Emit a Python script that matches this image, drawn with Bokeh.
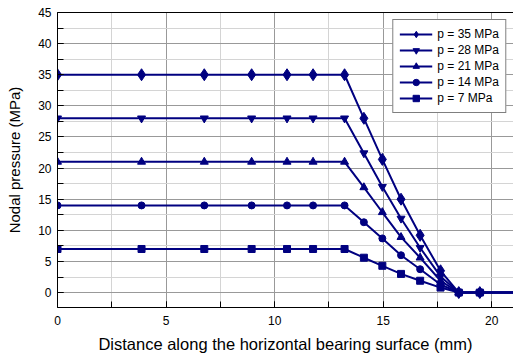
from bokeh.plotting import figure
from bokeh.models import Range1d, LinearAxis, SingleIntervalTicker, FixedTicker
from bokeh.embed import file_html
from bokeh.resources import INLINE

# Data
x_vals = [0, 3.87, 6.76, 8.94, 10.57, 11.77, 13.22, 14.11, 14.96, 15.82, 16.70, 17.64, 18.48, 19.45, 22.0]
p35 = [35, 35, 35, 35, 35, 35, 35, 28.0, 21.4, 15.0, 9.2, 3.5, 0, 0, 0]
p28 = [28, 28, 28, 28, 28, 28, 28, 22.4, 17.0, 11.9, 7.2, 2.6, 0, 0, 0]
p21 = [21, 21, 21, 21, 21, 21, 21, 16.9, 12.9, 8.9, 5.6, 1.9, 0, 0, 0]
p14 = [14, 14, 14, 14, 14, 14, 14, 11.3, 8.7, 6.0, 3.75, 1.3, 0, 0, 0]
p7 = [7, 7, 7, 7, 7, 7, 7, 5.6, 4.3, 3.0, 1.9, 0.8, 0, 0, 0]
labels = ["p = 35 MPa", "p = 28 MPa", "p = 21 MPa", "p = 14 MPa", "p = 7 MPa"]
markers = ["diamond", "inverted_triangle", "triangle", "circle", "square"]
sizes = [12, 8, 8, 7, 7]
series = [p35, p28, p21, p14, p7]

FONT = "Liberation Sans"
COLOR = "#000080"

p = figure(width=513, height=359, output_backend="svg", toolbar_location=None,
           x_range=Range1d(0, 21), y_range=Range1d(-2.4, 45),
           min_border_left=57, min_border_right=0, min_border_top=12, min_border_bottom=52,
           background_fill_color="white", border_fill_color="white")
p.outline_line_color = None

xt = SingleIntervalTicker(interval=5, num_minor_ticks=2)
yt = SingleIntervalTicker(interval=5, num_minor_ticks=2)
p.xaxis.ticker = xt
p.yaxis.ticker = yt
p.xgrid.ticker = xt
p.ygrid.ticker = yt

for g in (p.xgrid, p.ygrid):
    g.grid_line_color = "#999999"
    g.grid_line_width = 1
    g.minor_grid_line_color = "#d4d4d4"
    g.minor_grid_line_width = 1

for ax in (p.xaxis, p.yaxis):
    ax.axis_line_color = "black"
    ax.axis_line_width = 1
    ax.major_tick_in = 6
    ax.major_tick_out = 0
    ax.minor_tick_in = 6
    ax.minor_tick_out = 0
    ax.major_tick_line_color = "black"
    ax.minor_tick_line_color = "black"
    ax.major_label_text_font = FONT
    ax.major_label_text_font_size = "12px"
    ax.major_label_text_color = "black"
    ax.axis_label_text_font = FONT
    ax.axis_label_text_font_style = "normal"
    ax.axis_label_text_color = "black"

p.xaxis.axis_label = "Distance along the horizontal bearing surface (mm)"
p.yaxis.axis_label = "Nodal pressure (MPa)"
p.xaxis.axis_label_text_font_size = "16.5px"
p.yaxis.axis_label_text_font_size = "15px"
p.xaxis.major_label_standoff = 8
p.xaxis.axis_label_standoff = 7
p.yaxis.major_label_standoff = 6
p.yaxis.axis_label_standoff = 12

top = LinearAxis(ticker=FixedTicker(ticks=[]), major_tick_in=0, major_tick_out=0,
                 minor_tick_in=0, minor_tick_out=0, axis_line_color="black")
p.add_layout(top, "above")

for vals, lab, mk, sz in zip(series, labels, markers, sizes):
    p.line(x_vals, vals, line_color=COLOR, line_width=2, legend_label=lab)
    p.scatter(x_vals, vals, marker=mk, size=sz, fill_color=COLOR, line_color=COLOR, legend_label=lab)

lg = p.legend[0]
lg.location = "top_right"
lg.margin = 7
lg.padding = 6
lg.spacing = 0
lg.glyph_height = 16
lg.label_height = 16
lg.glyph_width = 33
lg.label_standoff = 5
lg.label_text_font = FONT
lg.label_text_font_size = "12px"
lg.label_text_color = "black"
lg.border_line_color = "black"
lg.border_line_width = 1
lg.background_fill_color = "white"
lg.background_fill_alpha = 1.0

open("out.html", "w").write(file_html(p, INLINE))
